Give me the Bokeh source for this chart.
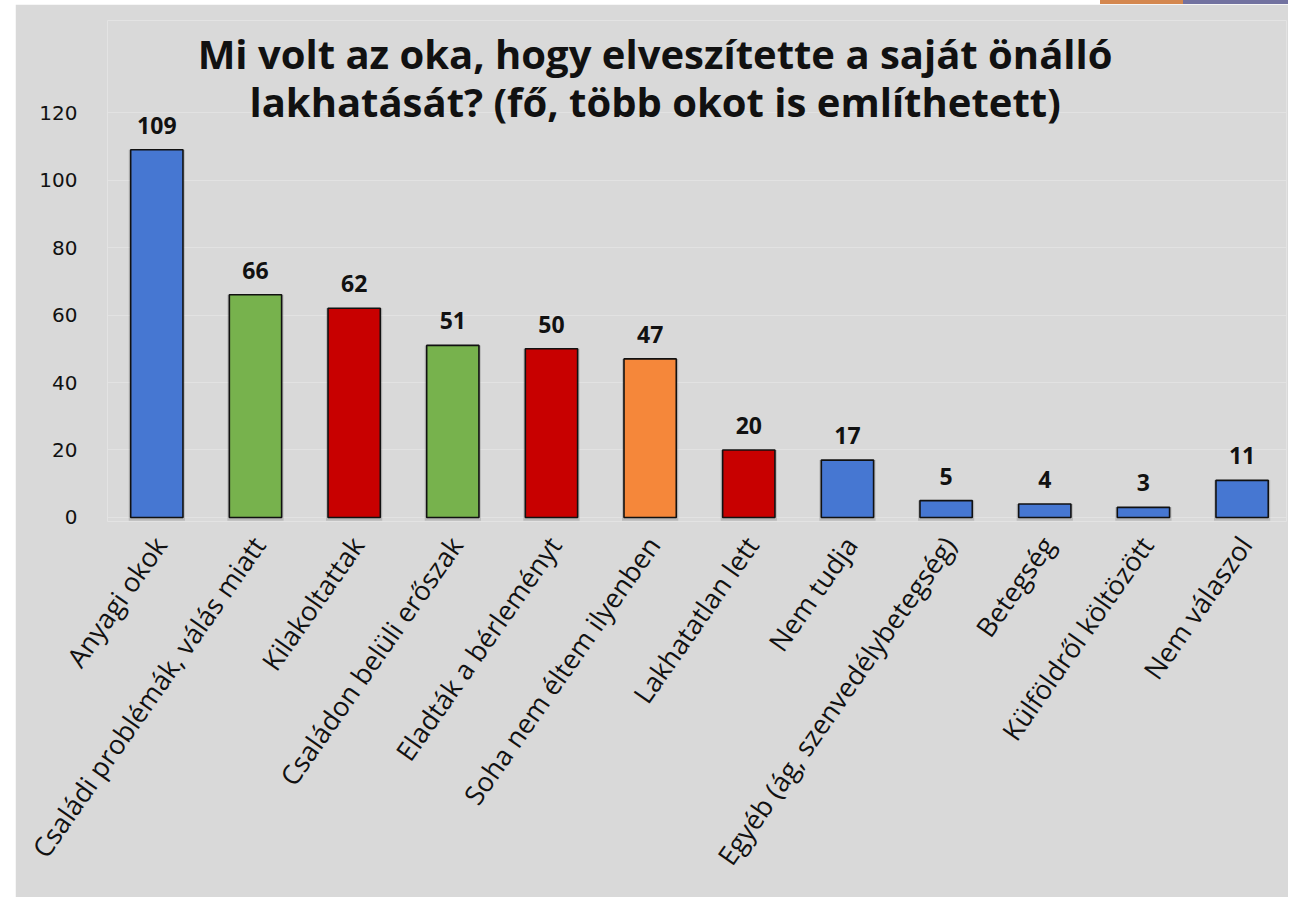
import math
from bokeh.plotting import figure
from bokeh.models import (ColumnDataSource, Range1d, FixedTicker, LinearAxis,
                          LabelSet, Label, Spacer, Div)
from bokeh.layouts import row, column
from bokeh.core.properties import value
from bokeh.embed import file_html
from bokeh.resources import INLINE

# ---- data ----
categories = ["Anyagi okok", "Családi problémák, válás miatt", "Kilakoltattak",
              "Családon belüli erőszak", "Eladták a bérleményt",
              "Soha nem éltem ilyenben", "Lakhatatlan lett", "Nem tudja",
              "Egyéb (ág, szenvedélybetegség)", "Betegség",
              "Külföldről költözött", "Nem válaszol"]
values = [109, 66, 62, 51, 50, 47, 20, 17, 5, 4, 3, 11]
groups = ["blue", "green", "red", "green", "red", "orange", "red",
          "blue", "blue", "blue", "blue", "blue"]
y_ticks = [0, 20, 40, 60, 80, 100, 120]
title_lines = ["Mi volt az oka, hogy elveszítette a saját önálló",
               "lakhatását? (fő, több okot is említhetett)"]

palette = {"blue": "#4677d2", "green": "#77b24d", "red": "#c80000",
           "orange": "#f5873a"}

BG = "#d9d9d9"
FONT = "Open Sans"

xs = list(range(len(categories)))
src = ColumnDataSource(dict(
    x=xs, top=values, cat=categories,
    color=[palette[g] for g in groups],
    label=[str(v) for v in values],
))

p = figure(width=1273, height=893, output_backend="svg", toolbar_location=None,
           x_range=Range1d(-0.5, 11.45), y_range=Range1d(-1.2, 147.3),
           x_axis_location=None, y_axis_location="left",
           min_border_left=92, min_border_right=2, min_border_top=16,
           min_border_bottom=376)
p.background_fill_color = BG
p.border_fill_color = BG
p.outline_line_color = None

# shadows
p.vbar(x="x", top="top", bottom=-1.0, width=0.57, source=src,
       fill_color="#000000", fill_alpha=0.14, line_color=None)
# bars
p.vbar(x="x", top="top", bottom=0, width=0.53, source=src,
       fill_color="color", line_color="#111111", line_width=1.6)

# value labels
labels = LabelSet(x="x", y="top", text="label", source=src, y_offset=16,
                  text_align="center", text_baseline="alphabetic",
                  text_font=value(FONT), text_font_style="bold",
                  text_font_size="23px", text_color="#111111")
p.add_layout(labels)

# y axis
ya = p.yaxis[0]
ya.ticker = FixedTicker(ticks=y_ticks)
ya.axis_line_color = None
ya.major_tick_line_color = None
ya.minor_tick_line_color = None
ya.major_label_standoff = 24
ya.major_label_text_font = "DejaVu Sans"
ya.major_label_text_font_size = "20px"
ya.major_label_text_color = "#111111"

p.ygrid.ticker = FixedTicker(ticks=y_ticks)
p.ygrid.grid_line_color = "#e2e2e2"
p.ygrid.grid_line_width = 1
p.xgrid.grid_line_color = None

# category axis
p.extra_x_ranges = {"lbl": Range1d(-0.53, 11.42)}
xa = LinearAxis(x_range_name="lbl")
xa.ticker = FixedTicker(ticks=xs)
xa.major_label_overrides = {i: c for i, c in enumerate(categories)}
xa.major_label_orientation = math.radians(55)
xa.axis_line_color = None
xa.major_tick_line_color = None
xa.minor_tick_line_color = None
xa.major_label_standoff = 12
xa.major_label_text_font = FONT
xa.major_label_text_font_size = "27px"
xa.major_label_text_color = "#111111"
p.add_layout(xa, "below")

# title
for line, yv in zip(title_lines, [137.5, 123.2]):
    p.add_layout(Label(x=5.05, y=yv, text=line, text_align="center",
                       text_baseline="middle", text_font=FONT,
                       text_font_style="bold", text_font_size="40px",
                       text_color="#111111"))

top_strip = row(Spacer(width=1100, height=4),
                Div(width=83, height=4, margin=0,
                    styles={"background-color": "#d4874f"}),
                Div(width=105, height=4, margin=0,
                    styles={"background-color": "#7272a0"}))
layout = column(top_strip, row(Spacer(width=15), p))
open("out.html", "w").write(file_html(layout, INLINE))
